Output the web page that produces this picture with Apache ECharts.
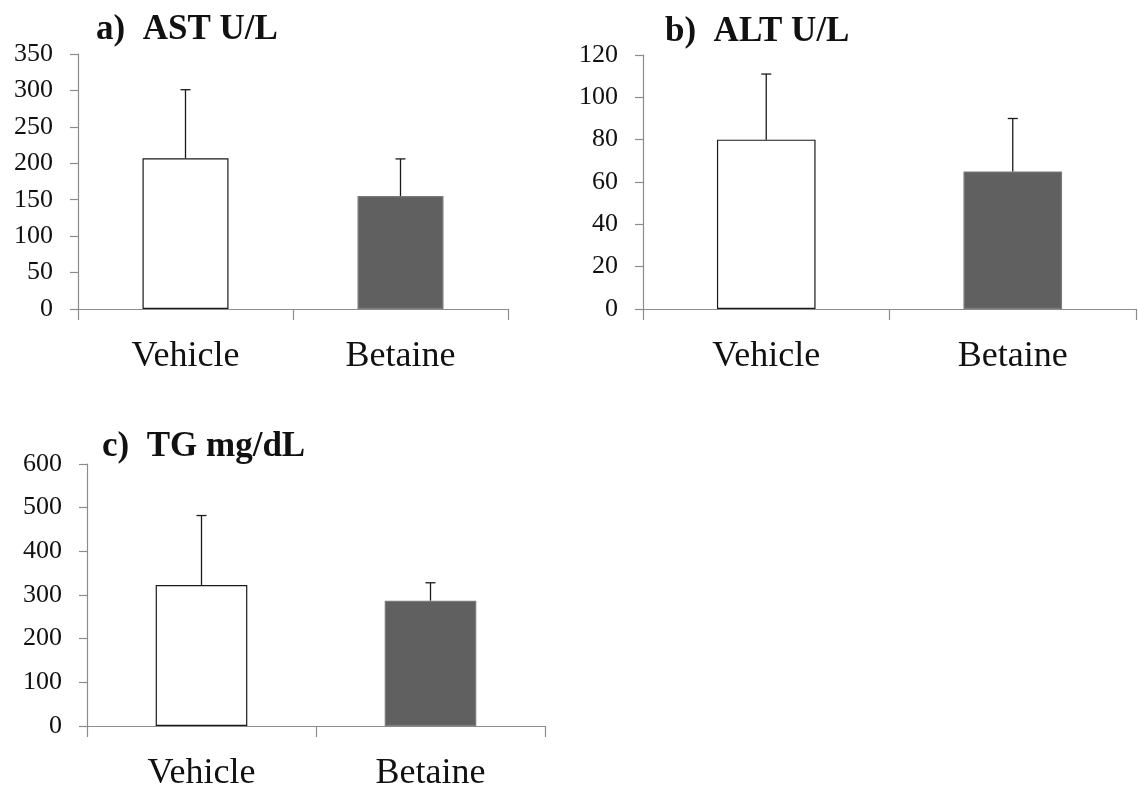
<!DOCTYPE html>
<html>
<head>
<meta charset="utf-8">
<script src="https://cdn.jsdelivr.net/npm/echarts@6/dist/echarts.min.js"></script>
<style>
  html, body { margin: 0; padding: 0; background: #fff; }
  #chart { width: 1138px; height: 792px; }
</style>
</head>
<body>
<div id="chart"></div>
<script>
// Groups
const categories = ['Vehicle', 'Betaine'];

// a) AST U/L
const astMean = [207, 155];
const astSD = [94, 51];
// b) ALT U/L
const altMean = [80, 65];
const altSD = [31, 25];
// c) TG mg/dL
const tgMean = [323, 287];
const tgSD = [159, 41];

// Axis ranges
const astAxis = { max: 350, interval: 50 };
const altAxis = { max: 120, interval: 20 };
const tgAxis = { max: 600, interval: 100 };

const panelTitles = ['a)  AST U/L', 'b)  ALT U/L', 'c)  TG mg/dL'];

const AXIS_GRAY = '#8c8c8c';
const TEXT = '#111111';
const SERIF = "'Liberation Serif', 'DejaVu Serif', serif";
const barFill = ['#ffffff', '#606060'];
const barBorder = ['#1a1a1a', '#7a7a7a'];

const panels = [
  { mean: astMean, sd: astSD, axis: astAxis },
  { mean: altMean, sd: altSD, axis: altAxis },
  { mean: tgMean, sd: tgSD, axis: tgAxis }
];

const grids = [
  { left: 78, top: 54, width: 430, height: 255 },
  { left: 643, top: 55, width: 493, height: 254 },
  { left: 87, top: 464, width: 458, height: 262 }
];

const xAxes = panels.map((p, i) => ({
  type: 'category',
  gridIndex: i,
  data: categories,
  boundaryGap: true,
  axisLine: { show: true, lineStyle: { color: AXIS_GRAY, width: 1.2 } },
  axisTick: { show: true, length: 11, interval: 0, lineStyle: { color: AXIS_GRAY, width: 1.2 } },
  axisLabel: { interval: 0, margin: 30, color: TEXT, fontFamily: SERIF, fontSize: 36 },
  splitLine: { show: false }
}));

const yAxes = panels.map((p, i) => ({
  type: 'value',
  gridIndex: i,
  min: 0,
  max: p.axis.max,
  interval: p.axis.interval,
  axisLine: { show: true, lineStyle: { color: AXIS_GRAY, width: 1.2 } },
  axisTick: { show: true, length: 8, lineStyle: { color: AXIS_GRAY, width: 1.2 } },
  axisLabel: { margin: 25, color: TEXT, fontFamily: SERIF, fontSize: 26 },
  splitLine: { show: false }
}));

// Upward-only error bar with a short cap
function errorBar(params, api) {
  const idx = api.value(0);
  const base = api.coord([idx, api.value(1)]);
  const top = api.coord([idx, api.value(2)]);
  const style = { stroke: '#1a1a1a', lineWidth: 1.3 };
  return {
    type: 'group',
    children: [
      { type: 'line', shape: { x1: base[0], y1: base[1], x2: top[0], y2: top[1] }, style: style },
      { type: 'line', shape: { x1: top[0] - 5, y1: top[1], x2: top[0] + 5, y2: top[1] }, style: style }
    ]
  };
}

const series = [];
panels.forEach((p, i) => {
  series.push({
    type: 'bar',
    xAxisIndex: i,
    yAxisIndex: i,
    barWidth: '40%',
    data: p.mean.map((v, k) => ({
      value: v,
      itemStyle: { color: barFill[k], borderColor: barBorder[k], borderWidth: 1.2 }
    })),
    z: 2
  });
  series.push({
    type: 'custom',
    xAxisIndex: i,
    yAxisIndex: i,
    renderItem: errorBar,
    data: p.mean.map((v, k) => [k, v, v + p.sd[k]]),
    z: 3
  });
});

const titlePos = [
  { left: 96, top: 12 },
  { left: 665, top: 14 },
  { left: 102, top: 429 }
];

const option = {
  animation: false,
  backgroundColor: '#ffffff',
  title: panelTitles.map((t, i) => ({
    text: t,
    left: titlePos[i].left,
    top: titlePos[i].top,
    padding: 0,
    textStyle: { fontFamily: SERIF, fontWeight: 'bold', fontSize: 35, color: TEXT }
  })),
  grid: grids,
  xAxis: xAxes,
  yAxis: yAxes,
  series: series
};

const chart = echarts.init(document.getElementById('chart'), null, { renderer: 'canvas' });
chart.setOption(option);
</script>
</body>
</html>
